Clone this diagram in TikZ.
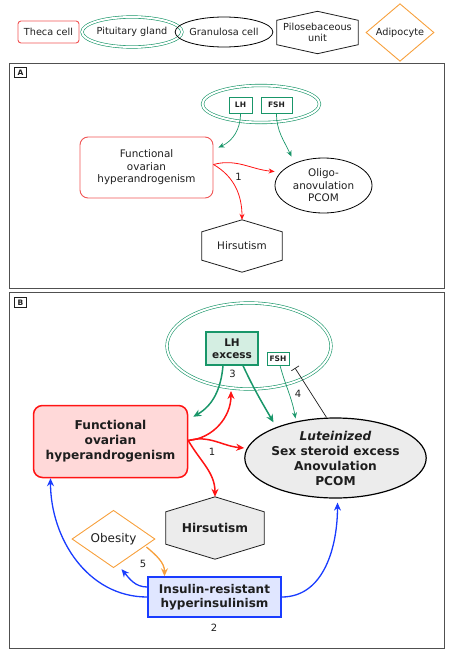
\documentclass[tikz,border=0pt]{standalone}
\usepackage{fontspec}
\setmainfont{DejaVu Sans}
\usetikzlibrary{shapes.geometric,arrows.meta,backgrounds}
\definecolor{gr}{RGB}{25,150,105}
\definecolor{grfill}{RGB}{212,238,226}
\definecolor{lred}{RGB}{240,85,85}
\definecolor{rd}{RGB}{255,20,20}
\definecolor{rdfill}{RGB}{255,217,217}
\definecolor{org}{RGB}{247,160,60}
\definecolor{bl}{RGB}{25,60,255}
\definecolor{blfill}{RGB}{224,230,255}
\definecolor{gy}{RGB}{236,236,236}
\definecolor{frm}{RGB}{80,80,80}
\definecolor{txt}{RGB}{30,30,30}
\begin{document}
\begin{tikzpicture}[x=1pt,y=-1pt,
  every node/.style={text=txt, align=center, inner sep=0pt},
  legfont/.style={font=\fontsize{9.7}{11.5}\selectfont},
  thecabox/.style={draw=lred, line width=0.9pt, rounded corners=3pt},
  pitell/.style={ellipse, draw=gr, double=white, double distance=2pt, line width=0.6pt},
  granell/.style={ellipse, draw=black, line width=0.8pt},
  hexline/.style={draw=txt, line width=0.8pt},
  adipo/.style={diamond, draw=org, line width=0.9pt},
  smallhorm/.style={draw=gr, line width=0.8pt, font=\bfseries\fontsize{7.5}{9}\selectfont},
  frame/.style={draw=frm, line width=1pt},
  panlab/.style={draw=txt, line width=0.7pt, minimum width=12, minimum height=10, font=\bfseries\fontsize{7.5}{9}\selectfont},
  garr/.style={draw=gr, line width=0.7pt, -{Stealth[length=6pt,width=5pt]}},
  garrB/.style={draw=gr, line width=1.5pt, -{Stealth[length=8pt,width=7pt]}},
  rarr/.style={draw=rd, line width=0.8pt, -{Stealth[length=6pt,width=5pt]}},
  rarrB/.style={draw=rd, line width=1.5pt, -{Stealth[length=8pt,width=7pt]}},
  barr/.style={draw=bl, line width=1.3pt, -{Stealth[length=8pt,width=7pt]}},
  oarr/.style={draw=org, line width=1.3pt, -{Stealth[length=8pt,width=7pt]}},
  numlab/.style={font=\fontsize{10}{12}\selectfont}
]
\useasboundingbox (0,0) rectangle (448,653);

% ---------------- Legend ----------------
\node[thecabox, legfont, minimum width=61, minimum height=22] (lt) at (48.5,32) {Theca cell};
\node[pitell, legfont, minimum width=86, minimum height=30] (lp) at (132,32) {Pituitary gland};
\node[granell, legfont, minimum width=78, minimum height=30] (lg) at (224,32) {Granulosa cell};
\node[legfont, minimum width=81, minimum height=24] (lh) at (317.5,32.5) {Pilosebaceous\\unit};
\draw[hexline] (lh.north west) -- ([yshift=9pt]lh.north) -- (lh.north east) -- (lh.south east) -- ([yshift=-9pt]lh.south) -- (lh.south west) -- cycle;
\node[adipo, legfont, minimum width=68, minimum height=45] (la) at (400,32.5) {Adipocyte};

% ---------------- Panel A ----------------
\draw[frame] (9,63) rectangle (444,288);
\node[panlab] (labA) at (20.5,72.5) {A};

\node[pitell, minimum width=117, minimum height=37] (pitA) at (261,104) {};
\node[smallhorm, minimum width=23, minimum height=16] (lhA) at (240.5,105) {LH};
\node[smallhorm, minimum width=31, minimum height=16] (fshA) at (276.5,105) {FSH};

\node[draw=lred, line width=0.9pt, rounded corners=8pt, minimum width=133, minimum height=61,
      font=\fontsize{10.4}{12.6}\selectfont] (fohA) at (146.5,167.5) {Functional\\ovarian\\hyperandrogenism};
\node[granell, minimum width=97, minimum height=55, font=\fontsize{10.4}{12.6}\selectfont] (oliA) at (323.5,185.5) {Oligo-\\anovulation\\PCOM};
\node[minimum width=80, minimum height=28, font=\fontsize{10.4}{12.6}\selectfont] (hirA) at (242,246) {Hirsutism};
\draw[hexline] (hirA.north west) -- ([yshift=12pt]hirA.north) coordinate (hirAtop) -- (hirA.north east) -- (hirA.south east) -- ([yshift=-12pt]hirA.south) -- (hirA.south west) -- cycle;

\draw[garr] (lhA.south) to[out=-90, in=25] ([xshift=5pt,yshift=-11pt]fohA.north east);
\draw[garr] (fshA.south) to[out=-90, in=115] ([xshift=-32pt,yshift=1pt]oliA.north);
\draw[rarr] ([yshift=3pt]fohA.east) to[out=15, in=175] ([yshift=14pt]oliA.west);
\draw[rarr] ([yshift=3pt]fohA.east) to[out=-30, in=90] (hirAtop);
\node[numlab] (n1A) at (238.5,177) {1};

% ---------------- Panel B ----------------
\draw[frame] (9,292) rectangle (444,648);
\node[panlab] (labB) at (20.5,302.5) {B};

\node[pitell, minimum width=164, minimum height=86] (pitB) at (249,346) {};
\node[draw=gr, fill=grfill, line width=1.3pt, minimum width=52, minimum height=33,
      font=\bfseries\fontsize{10.5}{12}\selectfont] (lhB) at (232,348.5) {LH\\excess};
\node[smallhorm, minimum width=22, minimum height=13] (fshB) at (278,358.5) {FSH};

\node[draw=rd, fill=rdfill, line width=1.5pt, rounded corners=9pt, minimum width=154, minimum height=72,
      font=\bfseries\fontsize{12.2}{15}\selectfont] (fohB) at (110.5,441.5) {Functional\\ovarian\\hyperandrogenism};
\node[ellipse, draw=black, fill=gy, line width=1.2pt, minimum width=166, minimum height=80,
      font=\bfseries\fontsize{12.2}{15}\selectfont] (ellB) at (335.5,458) {\textit{Luteinized}\\Sex steroid excess\\Anovulation\\PCOM};
\node[minimum width=98, minimum height=32, font=\bfseries\fontsize{12.2}{15}\selectfont] (hirB) at (215,528) {Hirsutism};
\begin{scope}[on background layer]
\draw[hexline, fill=gy] (hirB.north west) -- ([yshift=15pt]hirB.north) coordinate (hirBtop) -- (hirB.north east) -- (hirB.south east) -- ([yshift=-15pt]hirB.south) -- (hirB.south west) -- cycle;
\end{scope}
\node[adipo, minimum width=83, minimum height=56, font=\fontsize{12}{14}\selectfont] (obe) at (113.5,539) {Obesity};
\node[draw=bl, fill=blfill, line width=1.5pt, minimum width=133, minimum height=40,
      font=\bfseries\fontsize{12}{14.5}\selectfont] (ins) at (214.5,597) {Insulin-resistant\\hyperinsulinism};

% green arrows
\draw[garrB] ([xshift=-9pt]lhB.south) to[out=-95, in=30] ([xshift=5pt,yshift=-12pt]fohB.north east);
\draw[garrB] ([xshift=11pt]lhB.south) to[out=-65, in=120] ([xshift=-62pt,yshift=-5pt]ellB.north);
\draw[garr] ([xshift=2pt]fshB.south) to[out=-75, in=100] ([xshift=-40pt,yshift=-1pt]ellB.north);
\draw[draw=txt, line width=0.7pt, -{Bar[width=9pt]}] ([xshift=-9pt]ellB.north) -- (295,368) coordinate (inhEnd);
\node[numlab] (n3) at (232.5,373.5) {3};
\node[numlab] (n4) at (298,394) {4};

% red arrows
\draw[rarrB] ([yshift=1pt]fohB.east) to[out=5, in=-90] (231,391) coordinate (redTip);
\draw[rarrB] ([yshift=1pt]fohB.east) to[out=15, in=175] ([yshift=10pt]ellB.west);
\draw[rarrB] ([yshift=1pt]fohB.east) to[out=-60, in=90] (hirBtop);
\node[numlab] (n1B) at (212,452) {1};

% blue and orange arrows
\draw[barr] (ins.west) to[out=180, in=-90] ([xshift=-60pt]fohB.south);
\draw[barr] ([yshift=10pt]ins.west) to[out=180, in=-50] ([xshift=8pt,yshift=-1pt]obe.south);
\draw[oarr] ([xshift=-9pt,yshift=-8pt]obe.east) to[out=-40, in=90] ([xshift=-50pt]ins.north);
\draw[barr] (ins.east) to[out=0, in=-90] ([xshift=2pt,yshift=-4pt]ellB.south);
\node[numlab] (n5) at (143,564) {5};
\node[numlab] (n2) at (214,628) {2};
\end{tikzpicture}
\end{document}
